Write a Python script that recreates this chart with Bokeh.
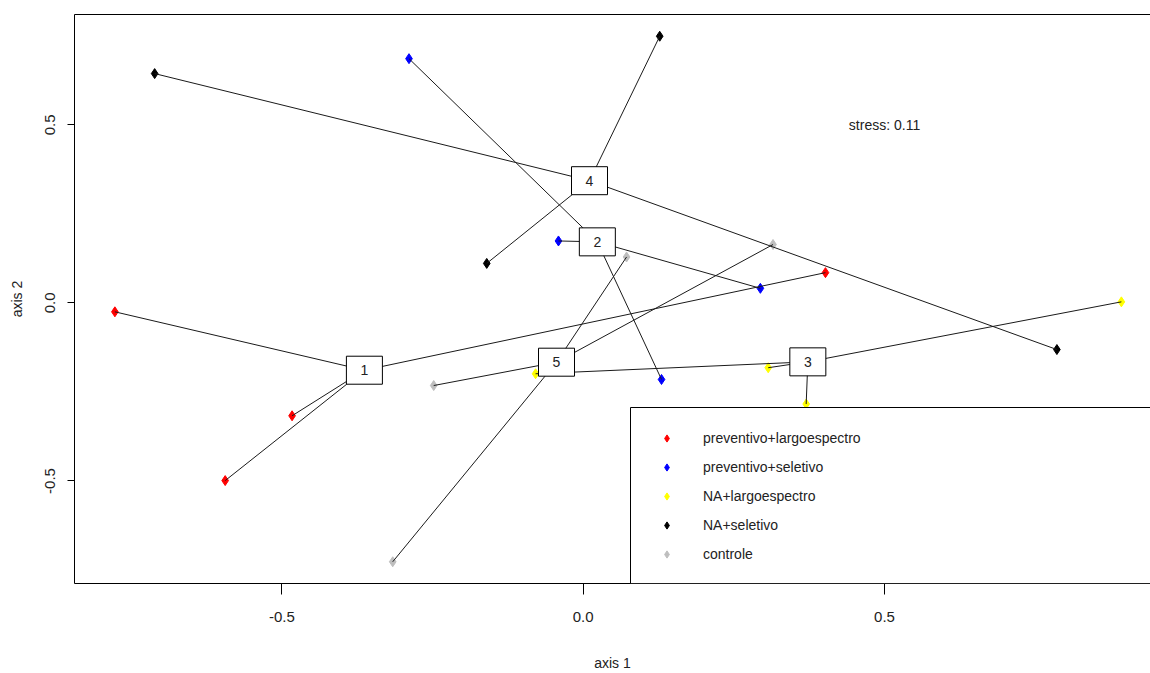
import numpy as np
from bokeh.plotting import figure
from bokeh.models import (Range1d, LinearAxis, FixedTicker, Legend, LegendItem,
                          ColumnDataSource, PrintfTickFormatter, BoxAnnotation)
from bokeh.embed import file_html
from bokeh.resources import INLINE
from bokeh.core.properties import value

# NMDS site scores, treatment of each site, and fit stress
nmds1 = [-0.777, -0.483, -0.594, 0.402,
         -0.289, -0.041, 0.294, 0.130,
         0.893, 0.307, 0.370, -0.079,
         -0.711, 0.127, -0.160, 0.786,
         -0.248, 0.072, 0.315, -0.316]
nmds2 = [-0.025, -0.317, -0.499, 0.085,
         0.686, 0.174, 0.041, -0.215,
         0.003, -0.182, -0.284, -0.199,
         0.644, 0.749, 0.111, -0.131,
         -0.232, 0.129, 0.164, -0.727]
site_group = [1, 1, 1, 1, 2, 2, 2, 2, 3, 3, 3, 3, 4, 4, 4, 4, 5, 5, 5, 5]
group_names = ["preventivo+largoespectro", "preventivo+seletivo",
               "NA+largoespectro", "NA+seletivo", "controle"]
group_colors = ["#ff0000", "#0000ff", "#ffff00", "#000000", "#bebebe"]
stress = 0.11

FONT = "Liberation Sans"

x = np.array(nmds1)
y = np.array(nmds2)
g = np.array(site_group)
group_ids = sorted(set(site_group))

# group centroids (spider centres)
cx = np.array([x[g == k].mean() for k in group_ids])
cy = np.array([y[g == k].mean() for k in group_ids])

p = figure(width=1150, height=673,
           x_range=Range1d(-0.844, 0.9413), y_range=Range1d(-0.788, 0.810),
           output_backend="svg", toolbar_location=None,
           min_border_left=74, min_border_right=0,
           min_border_top=14, min_border_bottom=89)
p.xgrid.visible = False
p.ygrid.visible = False
p.outline_line_color = None
p.background_fill_color = "white"
p.border_fill_color = "white"

xax = p.below[0]
yax = p.left[0]
for ax in (xax, yax):
    ax.ticker = FixedTicker(ticks=[-0.5, 0.0, 0.5])
    ax.formatter = PrintfTickFormatter(format="%.1f")
    ax.minor_tick_line_color = None
    ax.major_tick_in = 0
    ax.axis_line_color = "black"
    ax.major_tick_line_color = "black"
    ax.major_label_text_font = FONT
    ax.major_label_text_font_size = "15px"
    ax.major_label_text_color = "#222222"
    ax.major_label_text_line_height = 1.0
    ax.axis_label_text_font = FONT
    ax.axis_label_text_font_size = "14px"
    ax.axis_label_text_font_style = "normal"
    ax.axis_label_text_color = "#222222"
    ax.axis_label_text_line_height = 1.0
xax.major_tick_out = 11
xax.major_label_standoff = 17
xax.axis_label = "axis 1"
xax.axis_label_standoff = 30
yax.major_tick_out = 7
yax.major_label_standoff = 12
yax.major_label_orientation = "vertical"
yax.axis_label = "axis 2"
yax.axis_label_standoff = 18

# top edge of the box around the plot
top = LinearAxis(ticker=FixedTicker(ticks=[]), major_label_text_font_size="0px",
                 major_tick_line_color=None, minor_tick_line_color=None,
                 major_tick_out=0, major_label_standoff=0,
                 axis_line_color="black")
p.add_layout(top, "above")

# site points
items = []
for k, name, col in zip(group_ids, group_names, group_colors):
    m = g == k
    r = p.scatter(x[m], y[m], marker="diamond", size=10,
                  fill_color=col, line_color=col)
    items.append(LegendItem(label=name, renderers=[r]))

# spider lines from each site to its group centroid
spider = ColumnDataSource(dict(x0=x, y0=y, x1=cx[g - 1], y1=cy[g - 1]))
p.segment(x0="x0", y0="y0", x1="x1", y1="y1", source=spider,
          line_color="#1a1a1a", line_width=1)

# centroid labels in white boxes
cent = ColumnDataSource(dict(cx=cx, cy=cy, lab=[str(k) for k in group_ids]))
p.rect(x="cx", y="cy", width=36, height=28, width_units="screen",
       height_units="screen", fill_color="white", line_color="black",
       line_width=1, source=cent)
p.text(x="cx", y="cy", text="lab", source=cent, text_align="center",
       text_baseline="middle", text_font=value(FONT), text_font_size="14px",
       text_color="#222222")

p.text(x=[0.5], y=[0.5], text=[f"stress: {stress:.2f}"], text_align="center",
       text_baseline="middle", text_font=value(FONT), text_font_size="14px",
       text_color="#222222")

# legend panel, running off the right side of the plot
p.add_layout(BoxAnnotation(left=556, right=2000, bottom=0, top=176,
                           left_units="screen", right_units="screen",
                           bottom_units="screen", top_units="screen",
                           fill_color="white", fill_alpha=1.0,
                           line_color="black", line_width=1, line_alpha=1.0))

legend = Legend(items=items, location=(556, 0), padding=15, spacing=0,
                glyph_width=43, glyph_height=18, label_height=29,
                label_standoff=15, label_width=300, margin=0,
                border_line_color="black", border_line_alpha=0.0,
                background_fill_alpha=0.0,
                label_text_font=FONT, label_text_font_size="14px",
                label_text_color="#222222")
p.add_layout(legend)

open("out.html", "w").write(file_html(p, INLINE))
